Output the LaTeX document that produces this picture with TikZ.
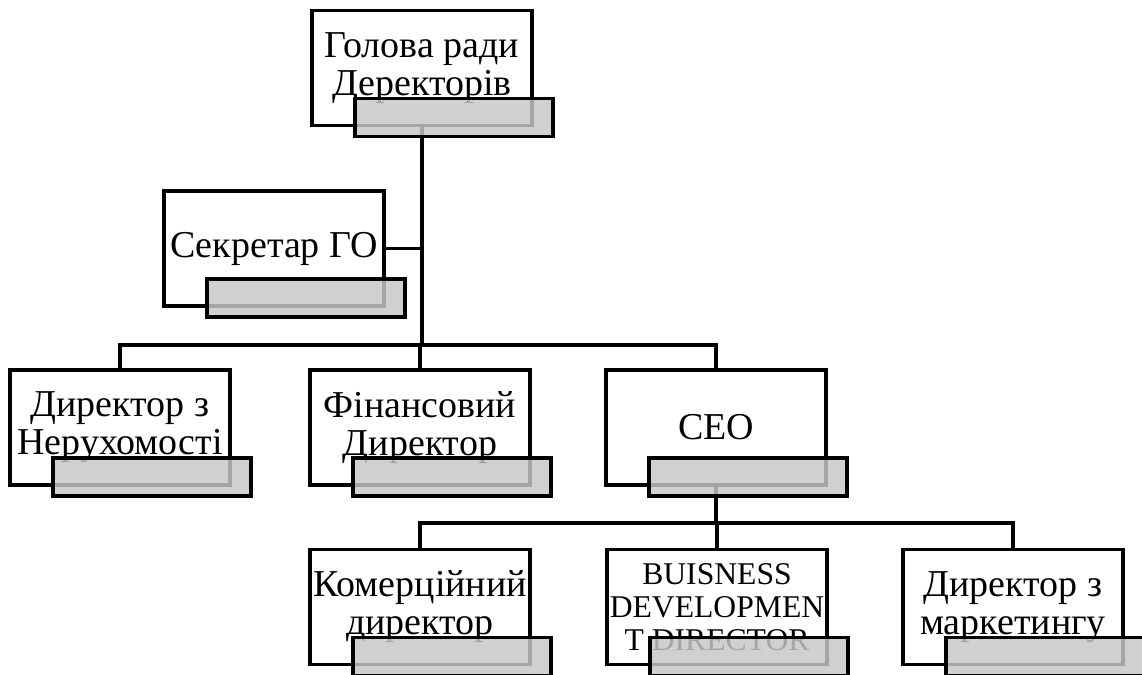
\documentclass[tikz,border=0pt]{standalone}
\usepackage{fontspec}
\setmainfont{Liberation Serif}
\usetikzlibrary{positioning}
\newcommand\boxfont{\fontsize{27}{27}\selectfont}
\newcommand\smallboxfont{\fontsize{22.5}{23.5}\selectfont}
\definecolor{tabgray}{RGB}{199,199,199}

\begin{document}
\begin{tikzpicture}[x=0.025cm,y=-0.025cm,
  post/.style={draw,line width=2.6pt,fill=white,minimum width=5.5cm,minimum height=2.88cm,
    inner sep=1pt,align=center,font=\boxfont},
  tab/.style={draw,line width=2.6pt,fill=tabgray,fill opacity=0.83,draw opacity=1,
    minimum width=4.95cm,minimum height=0.95cm,inner sep=0pt},
  link/.style={line width=2.6pt,line cap=rect}]
  \useasboundingbox (0,0) rectangle (1142,675);
  % posts
  \node[post] (chair) at (422,68) {Голова ради\\Деректорів};
  \node[post] (secretary) at (274,248.5) {Секретар ГО};
  \node[post] (realty) at (120,427.5) {Директор з\\Нерухомості};
  \node[post] (finance) at (420,427.5) {Фінансовий\\Директор};
  \node[post] (ceo) at (716,427.5) {CEO};
  \node[post] (commerce) at (420,607) {Комерційний\\директор};
  \node[post,font=\smallboxfont,inner xsep=0pt] (bizdev) at (717,607) {BUISNESS\\DEVELOPMEN\\T DIRECTOR};
  \node[post] (marketing) at (1013,607) {Директор з\\маркетингу};
  % connectors
  \coordinate (upperbus) at (0,345);
  \coordinate (lowerbus) at (0,523);
  \draw[link] (chair.south) -- (chair.south |- upperbus);
  \draw[link] (secretary.east) -- (secretary.east -| chair.south);
  \draw[link] (realty.north |- upperbus) -- (ceo.north |- upperbus);
  \foreach \n in {realty,finance,ceo}
    \draw[link] (\n.north) -- (\n.north |- upperbus);
  \draw[link] (ceo.south) -- (ceo.south |- lowerbus);
  \draw[link] (commerce.north |- lowerbus) -- (marketing.north |- lowerbus);
  \foreach \n in {commerce,bizdev,marketing}
    \draw[link] (\n.north) -- (\n.north |- lowerbus);
  % gray tabs
  \foreach \n in {chair,secretary,realty,finance,ceo,commerce,bizdev,marketing}
    \node[tab,anchor=south east] (\n-tab) at ([shift={(21,11)}]\n.south east) {};
\end{tikzpicture}
\end{document}
